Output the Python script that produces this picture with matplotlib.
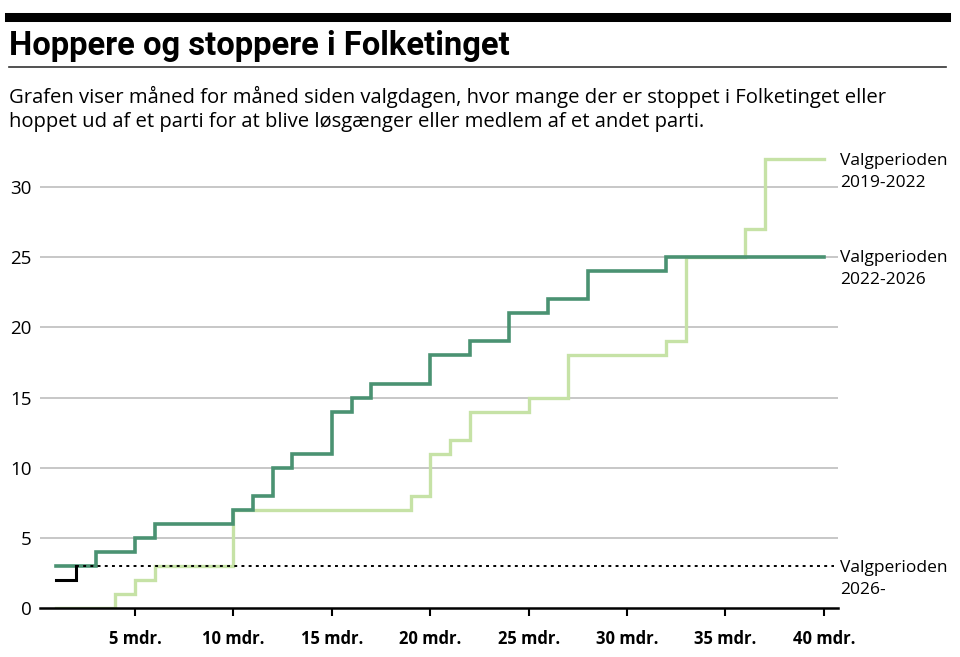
import matplotlib
matplotlib.use("Agg")
import matplotlib.pyplot as plt
from matplotlib.lines import Line2D

plt.rcParams['font.family'] = ['Open Sans', 'DejaVu Sans']

# måneder siden valgdagen
months = list(range(1, 41))

# Valgperioden 2022-2026
p2022 = [3, 3, 4, 4, 5, 6, 6, 6, 6, 7,
         8, 10, 11, 11, 14, 15, 16, 16, 16, 18,
         18, 19, 19, 21, 21, 22, 22, 24, 24, 24,
         24, 25, 25, 25, 25, 25, 25, 25, 25, 25]

# Valgperioden 2019-2022
p2019 = [0, 0, 0, 1, 2, 3, 3, 3, 3, 7,
         7, 7, 7, 7, 7, 7, 7, 7, 8, 11,
         12, 14, 14, 14, 15, 15, 18, 18, 18, 18,
         18, 19, 25, 25, 25, 27, 32, 32, 32, 32]

# Valgperioden 2026-
months_2026 = [1, 2]
p2026 = [2, 3]

xticks = [5, 10, 15, 20, 25, 30, 35, 40]
xticklabels = [f"{m} mdr." for m in xticks]
yticks = [0, 5, 10, 15, 20, 25, 30]

dark = '#4a9272'
light = '#c6e2a6'

W, H = 960, 657
fig = plt.figure(figsize=(W / 100, H / 100), dpi=100)

# axes i pixels
left, right, bottom, top = 40, 838, 608, 145
ax = fig.add_axes([left / W, 1 - bottom / H, (right - left) / W, (bottom - top) / H])
ax.set_xlim(0.17, 40.72)
ax.set_ylim(0, 33)

for y in yticks[1:]:
    ax.axhline(y, color='#bdbdbd', lw=1.2, zorder=1)

ax.step(months, p2019, where='post', color=light, lw=2.4, zorder=3,
        solid_joinstyle='miter')
ax.step(months, p2022, where='post', color=dark, lw=2.6, zorder=4,
        solid_joinstyle='miter')
ax.step(months_2026, p2026, where='post', color='black', lw=2.2, zorder=5,
        solid_joinstyle='miter')
ax.plot([months_2026[-1], 40.5], [p2026[-1], p2026[-1]], color='black',
        lw=1.4, linestyle=(0, (1.5, 2.2)), zorder=6)

for s in ['top', 'right', 'left']:
    ax.spines[s].set_visible(False)
ax.spines['bottom'].set_linewidth(1.8)
ax.spines['bottom'].set_zorder(7)

ax.set_xticks(xticks)
ax.set_xticklabels(xticklabels, fontsize=12, fontweight='bold')
ax.tick_params(axis='x', length=6, width=1.5, pad=10, colors='black')
ax.set_yticks(yticks)
ax.set_yticklabels([str(y) for y in yticks], fontsize=13.5)
ax.tick_params(axis='y', length=0, pad=6)

# etiketter til højre
lab_x = 840
def label(txt, ypix):
    fig.text(lab_x / W, 1 - ypix / H, txt, fontsize=12.5, va='center', ha='left',
             linespacing=1.45)

label("Valgperioden\n2019-2022", 172)
label("Valgperioden\n2022-2026", 269)
label("Valgperioden\n2026-", 579)

# titel og overskrift
fig.add_artist(Line2D([9 / W, 946 / W], [1 - 17 / H, 1 - 17 / H], color='black', lw=6.5))
title = fig.text(9 / W, 1 - 46 / H, "Hoppere og stoppere i Folketinget", fontsize=22,
                 fontweight='bold', va='center', ha='left',
                 family=['Roboto', 'DejaVu Sans'])
# tilpas titlens bredde til ca. 500 px
r = fig.canvas.get_renderer()
wpx = title.get_window_extent(r).width
title.set_fontsize(22 * 500 / wpx)

fig.add_artist(Line2D([9 / W, 946 / W], [1 - 67 / H, 1 - 67 / H], color='#333333', lw=1.2))
fig.text(9 / W, 1 - 97 / H,
         "Grafen viser måned for måned siden valgdagen, hvor mange der er stoppet i Folketinget eller",
         fontsize=14.6, va='center', ha='left')
fig.text(9 / W, 1 - 122 / H,
         "hoppet ud af et parti for at blive løsgænger eller medlem af et andet parti.",
         fontsize=14.6, va='center', ha='left')

fig.savefig("out.png", dpi=100)
